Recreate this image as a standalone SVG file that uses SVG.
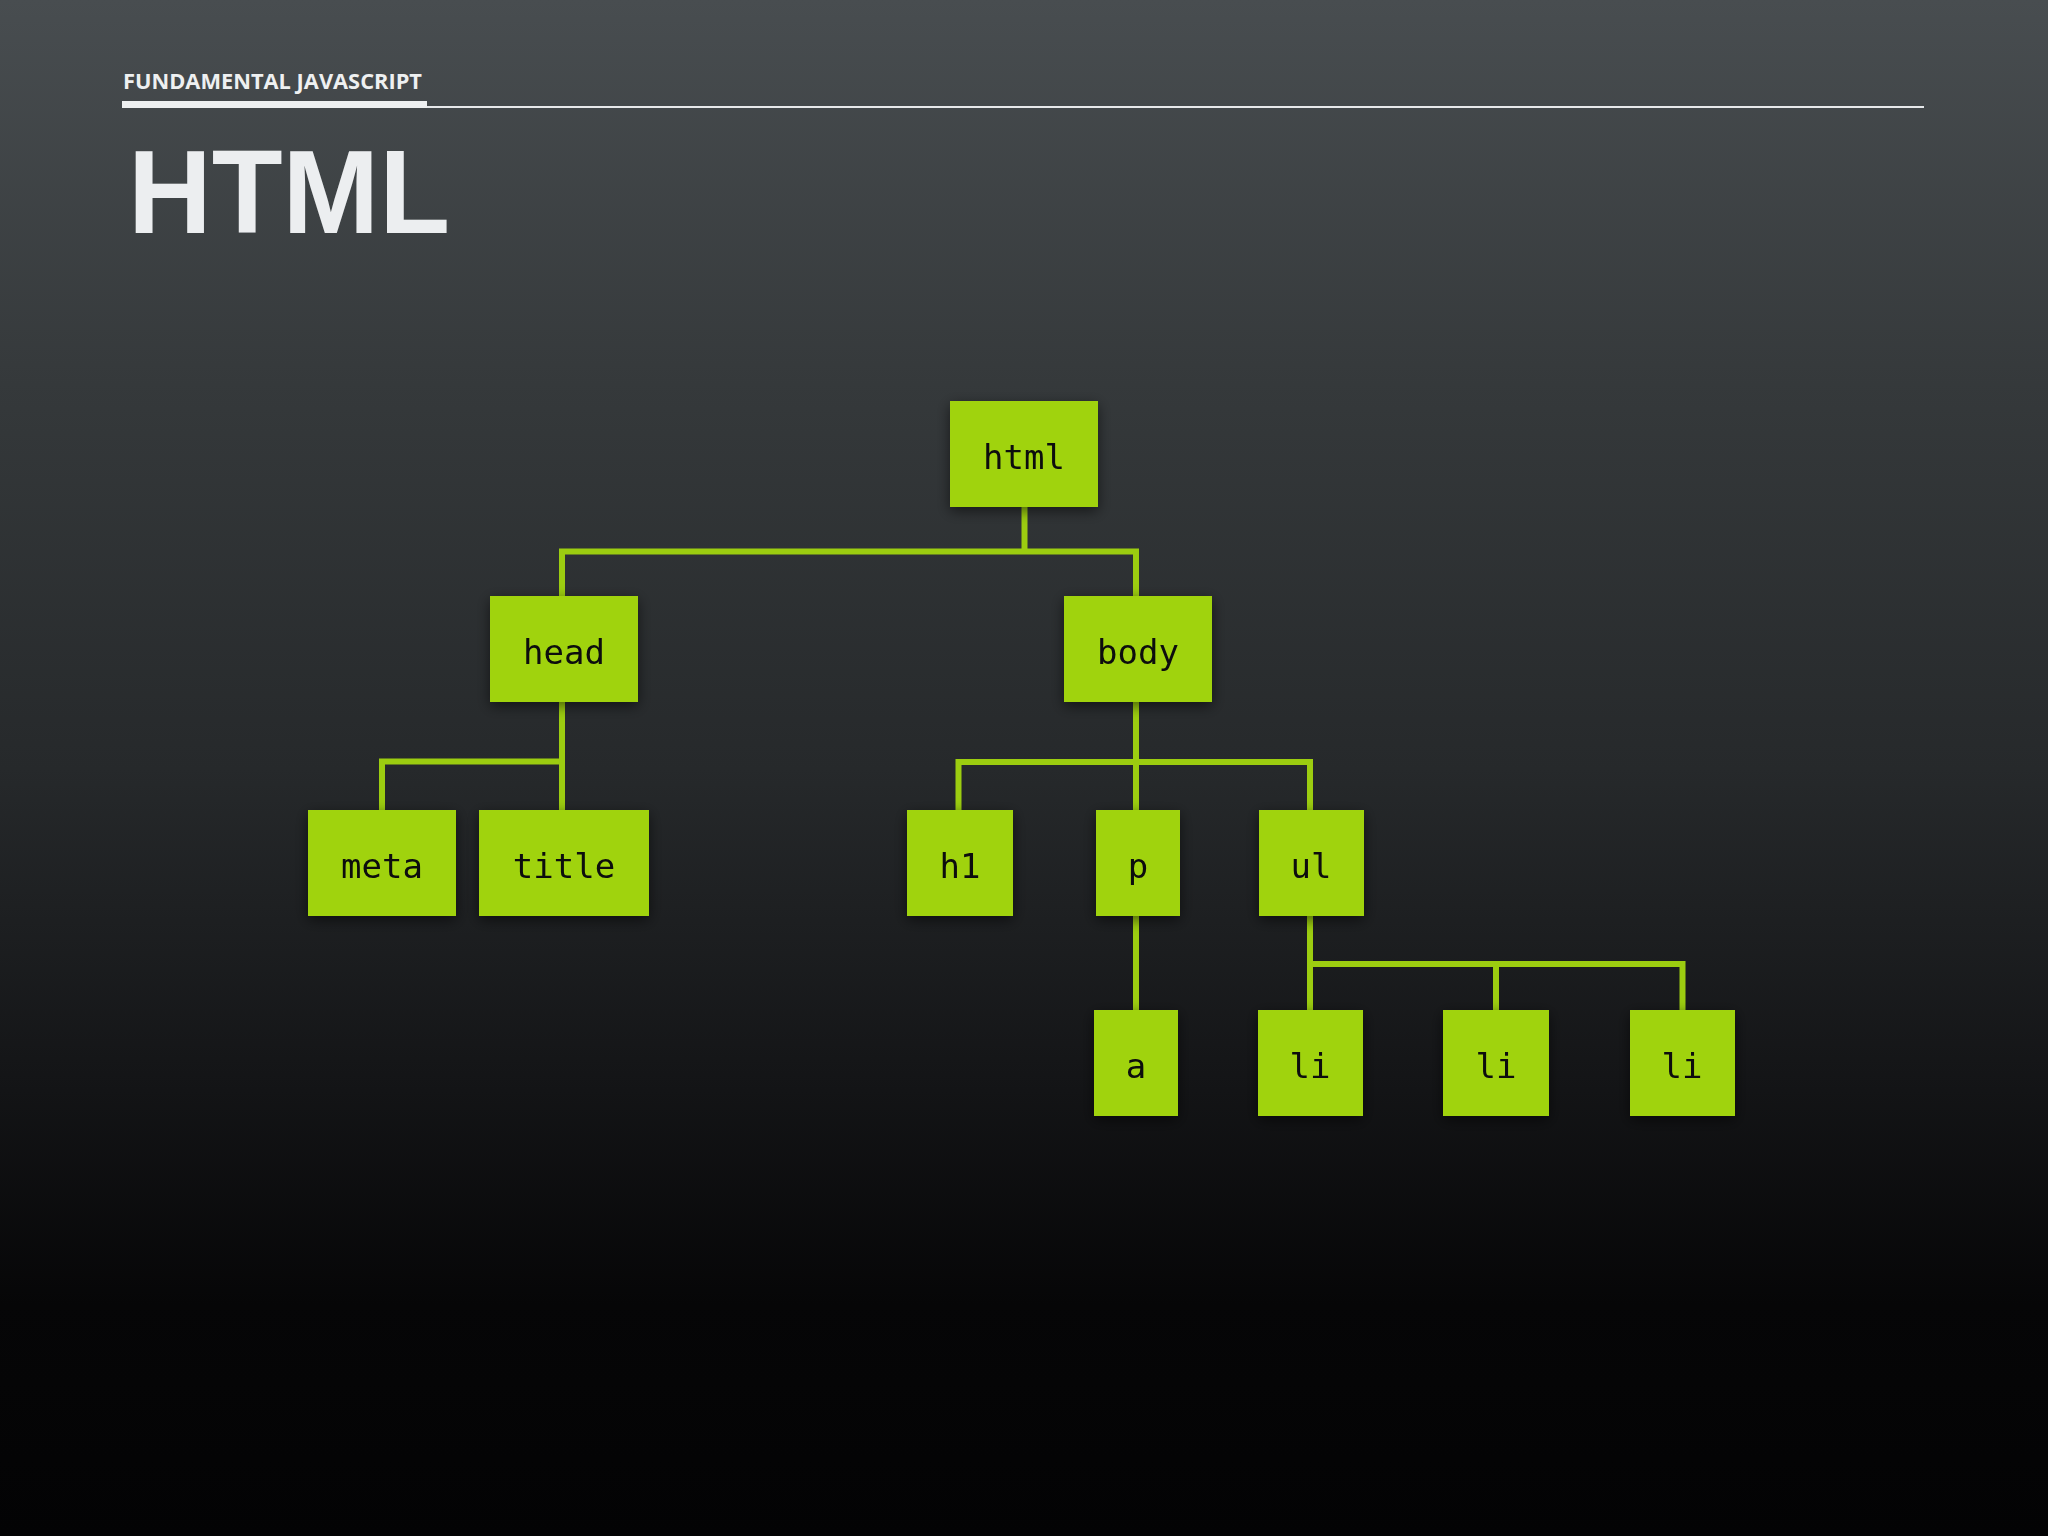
<svg xmlns="http://www.w3.org/2000/svg" width="2048" height="1536" viewBox="0 0 2048 1536">
  <defs>
    <linearGradient id="bg" x1="0" y1="0" x2="0" y2="1">
      <stop offset="0" stop-color="#484d50"/>
      <stop offset="0.25" stop-color="#35393b"/>
      <stop offset="0.5" stop-color="#26292b"/>
      <stop offset="0.7" stop-color="#141517"/>
      <stop offset="0.85" stop-color="#060607"/>
      <stop offset="1" stop-color="#030304"/>
    </linearGradient>
    <filter id="shadow" x="-30%" y="-30%" width="160%" height="160%">
      <feDropShadow dx="0" dy="4" stdDeviation="7" flood-color="#000" flood-opacity="0.55"/>
    </filter>
  </defs>
  <style>
    .box { fill: #a0d311; }
    .lbl { font-family: "DejaVu Sans Mono", "Liberation Mono", monospace; font-size: 34px; fill: #0a0a0a; text-anchor: middle; }
    .conn { fill: none; stroke: #9ccd10; stroke-width: 6; stroke-linejoin: miter; stroke-linecap: butt; }
  </style>
  <rect x="0" y="0" width="2048" height="1536" fill="url(#bg)"/>

  <g id="header">
    <text x="123" y="89" font-family="'Open Sans', 'Liberation Sans', sans-serif" font-weight="bold" font-size="22" fill="#eef0f1" textLength="299" lengthAdjust="spacingAndGlyphs">FUNDAMENTAL JAVASCRIPT</text>
    <rect x="122" y="101" width="305" height="7" fill="#eef0f1"/>
    <rect x="427" y="106" width="1497" height="2" fill="#e6e8ea"/>
    <text x="128" y="233" font-family="'Liberation Sans', Arial, sans-serif" font-weight="bold" font-size="119" fill="#eceef0" textLength="322" lengthAdjust="spacingAndGlyphs">HTML</text>
  </g>

  <g id="connectors">
    <polyline class="conn" points="1024.5,507 1024.5,551.5"/>
    <polyline class="conn" points="562,596 562,551.5 1136,551.5 1136,596"/>
    <polyline class="conn" points="562,702 562,810"/>
    <polyline class="conn" points="382,810 382,761.5 565,761.5"/>
    <polyline class="conn" points="1136,702 1136,810"/>
    <polyline class="conn" points="958.5,810 958.5,762 1310,762 1310,810"/>
    <polyline class="conn" points="1136,916 1136,1010"/>
    <polyline class="conn" points="1310,916 1310,1010"/>
    <polyline class="conn" points="1310,964 1682.5,964 1682.5,1010"/>
    <polyline class="conn" points="1496,964 1496,1010"/>
  </g>

  <g id="node-html" filter="url(#shadow)">
    <rect class="box" x="950" y="401" width="148" height="106"/>
    <text class="lbl" x="1024" y="469">html</text>
  </g>
  <g id="node-head" filter="url(#shadow)">
    <rect class="box" x="490" y="596" width="148" height="106"/>
    <text class="lbl" x="564" y="664">head</text>
  </g>
  <g id="node-body" filter="url(#shadow)">
    <rect class="box" x="1064" y="596" width="148" height="106"/>
    <text class="lbl" x="1138" y="664">body</text>
  </g>
  <g id="node-meta" filter="url(#shadow)">
    <rect class="box" x="308" y="810" width="148" height="106"/>
    <text class="lbl" x="382" y="878">meta</text>
  </g>
  <g id="node-title" filter="url(#shadow)">
    <rect class="box" x="479" y="810" width="170" height="106"/>
    <text class="lbl" x="564" y="878">title</text>
  </g>
  <g id="node-h1" filter="url(#shadow)">
    <rect class="box" x="907" y="810" width="106" height="106"/>
    <text class="lbl" x="960" y="878">h1</text>
  </g>
  <g id="node-p" filter="url(#shadow)">
    <rect class="box" x="1096" y="810" width="84" height="106"/>
    <text class="lbl" x="1138" y="878">p</text>
  </g>
  <g id="node-ul" filter="url(#shadow)">
    <rect class="box" x="1259" y="810" width="105" height="106"/>
    <text class="lbl" x="1311" y="878">ul</text>
  </g>
  <g id="node-a" filter="url(#shadow)">
    <rect class="box" x="1094" y="1010" width="84" height="106"/>
    <text class="lbl" x="1136" y="1078">a</text>
  </g>
  <g id="node-li1" filter="url(#shadow)">
    <rect class="box" x="1258" y="1010" width="105" height="106"/>
    <text class="lbl" x="1310" y="1078">li</text>
  </g>
  <g id="node-li2" filter="url(#shadow)">
    <rect class="box" x="1443" y="1010" width="106" height="106"/>
    <text class="lbl" x="1496" y="1078">li</text>
  </g>
  <g id="node-li3" filter="url(#shadow)">
    <rect class="box" x="1630" y="1010" width="105" height="106"/>
    <text class="lbl" x="1682" y="1078">li</text>
  </g>
</svg>
